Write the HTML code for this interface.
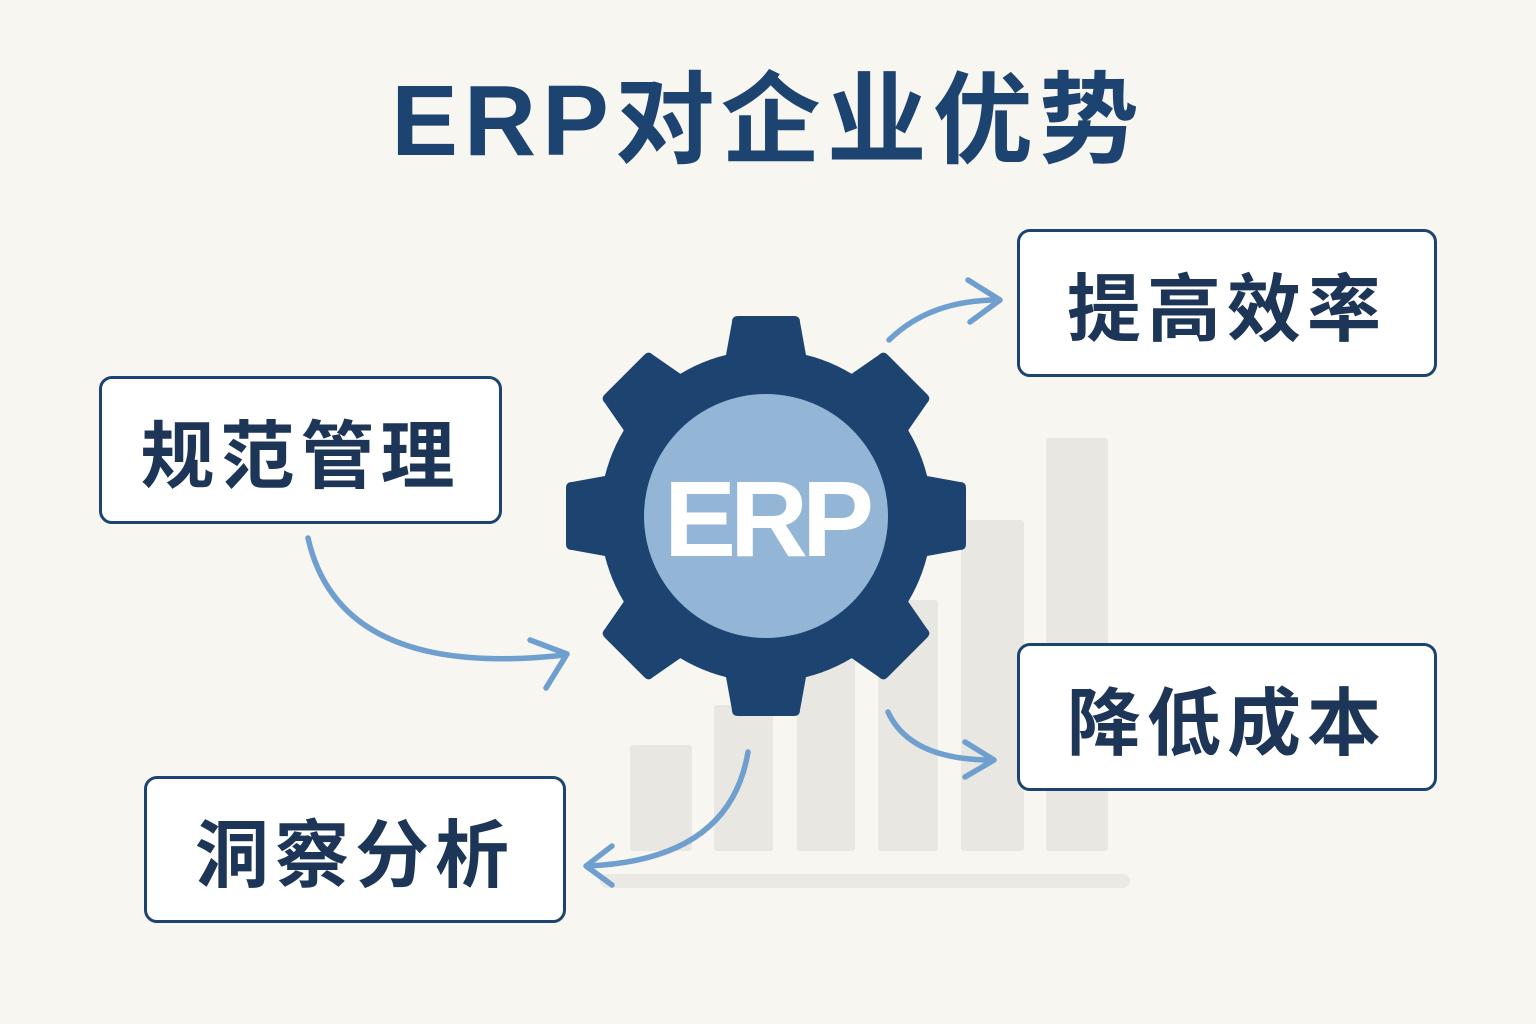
<!DOCTYPE html>
<html><head><meta charset="utf-8"><style>
html,body{margin:0;padding:0;}
body{width:1536px;height:1024px;background:#f8f6f1;position:relative;overflow:hidden;font-family:"Liberation Sans","Noto Sans CJK SC",sans-serif;}
.title{position:absolute;left:0;width:1536px;top:66px;text-align:center;font-size:100px;font-weight:bold;color:#1d4470;letter-spacing:6px;line-height:110px;}
.box{position:absolute;background:#fff;border:3.5px solid #1d4470;border-radius:13px;box-sizing:border-box;display:flex;align-items:center;justify-content:center;font-size:74px;font-weight:bold;color:#1d3556;letter-spacing:6px;}
svg{position:absolute;left:0;top:0;}
</style></head><body>
<svg width="1536" height="1024" viewBox="0 0 1536 1024">
<g fill="#e9e7e1">
<rect x="630" y="745" width="62" height="106" rx="3"/>
<rect x="714" y="705" width="59" height="146" rx="3"/>
<rect x="797" y="660" width="58" height="191" rx="3"/>
<rect x="878" y="600" width="60" height="251" rx="3"/>
<rect x="961" y="520" width="63" height="331" rx="3"/>
<rect x="1046" y="438" width="62" height="413" rx="3"/>
<rect x="600" y="874" width="530" height="14" rx="7" fill="#ebe9e3"/>
</g>
<g stroke="#6f9fcf" stroke-width="5.5" fill="none" stroke-linecap="round" stroke-linejoin="round">
<path d="M889 340 Q930 300 998 300"/>
<path d="M968 280 L1000 300 L970 322"/>
<path d="M308 538 Q340 680 565 655"/>
<path d="M530 640 L567 654 L546 688"/>
<path d="M888 712 Q910 760 992 760"/>
<path d="M965 742 L994 760 L965 777"/>
<path d="M748 752 Q730 860 588 866"/>
<path d="M612 846 L586 866 L612 885"/>
</g>
<g transform="translate(766,516)" fill="#1d4470">
<circle r="166"/>
<g id="t"><path d="M-34 -194 Q-34 -200 -28 -200 L28 -200 Q34 -200 34 -194 L42 -150 L-42 -150 Z"/></g>
<use href="#t" transform="rotate(45)"/>
<use href="#t" transform="rotate(90)"/>
<use href="#t" transform="rotate(135)"/>
<use href="#t" transform="rotate(180)"/>
<use href="#t" transform="rotate(225)"/>
<use href="#t" transform="rotate(270)"/>
<use href="#t" transform="rotate(315)"/>
<circle r="122" fill="#93b6d7"/>
<text x="0" y="40" text-anchor="middle" font-family="Liberation Sans, sans-serif" font-weight="bold" font-size="108" letter-spacing="-6" fill="#fff">ERP</text>
</g>
</svg>
<div class="title">ERP对企业优势</div>
<div class="box" style="left:1017px;top:229px;width:420px;height:148px;">提高效率</div>
<div class="box" style="left:99px;top:376px;width:403px;height:148px;">规范管理</div>
<div class="box" style="left:1017px;top:643px;width:420px;height:148px;">降低成本</div>
<div class="box" style="left:144px;top:776px;width:422px;height:147px;">洞察分析</div>
</body></html>
